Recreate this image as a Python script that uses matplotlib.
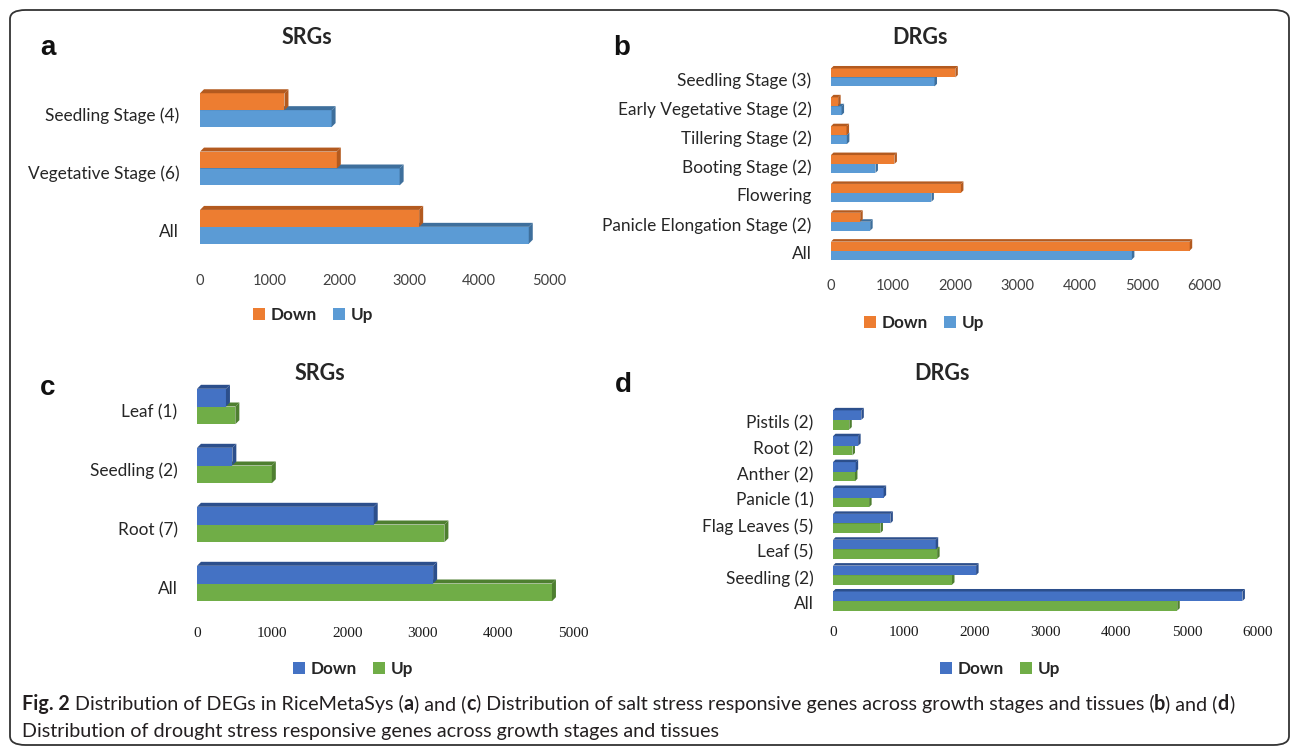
import matplotlib
matplotlib.use("Agg")
import matplotlib.pyplot as plt
from matplotlib.patches import Polygon, Patch, FancyBboxPatch

W, H = 1293, 750

# ---- data ----
srg_stage_cats = ["Seedling Stage (4)", "Vegetative Stage (6)", "All"]
srg_stage_down = [1210, 1960, 3140]
srg_stage_up = [1885, 2860, 4710]

drg_stage_cats = ["Seedling Stage (3)", "Early Vegetative Stage (2)",
                  "Tillering Stage (2)", "Booting Stage (2)", "Flowering",
                  "Panicle Elongation Stage (2)", "All"]
drg_stage_down = [2000, 115, 250, 1020, 2090, 470, 5770]
drg_stage_up = [1665, 170, 255, 715, 1615, 630, 4840]

srg_tissue_cats = ["Leaf (1)", "Seedling (2)", "Root (7)", "All"]
srg_tissue_down = [385, 470, 2350, 3140]
srg_tissue_up = [510, 995, 3290, 4720]

drg_tissue_cats = ["Pistils (2)", "Root (2)", "Anther (2)", "Panicle (1)",
                   "Flag Leaves (5)", "Leaf (5)", "Seedling (2)", "All"]
drg_tissue_down = [400, 355, 320, 715, 810, 1450, 2020, 5780]
drg_tissue_up = [230, 275, 310, 510, 670, 1470, 1680, 4860]

series_labels = ["Down", "Up"]
xmax_srg, xmax_drg = 5000, 6000

ORANGE, ORANGE_D = "#ED7D31", "#B35A1F"
BLUE, BLUE_D = "#5B9BD5", "#3E6F9C"
BLUE2, BLUE2_D = "#4472C4", "#2C4F8C"
GREEN, GREEN_D = "#70AD47", "#4E7F30"
TXT = "#262626"

fig = plt.figure(figsize=(W / 100, H / 100), dpi=100)


def px_axes(l, t, r, b):
    return fig.add_axes([l / W, 1 - b / H, (r - l) / W, (b - t) / H])


def bar3d(ax, y0, y1, v, face, dark, dx, dy):
    ax.add_patch(Polygon([(0, y0), (v, y0), (v, y1), (0, y1)], closed=True,
                         facecolor=face, edgecolor="none", zorder=2))
    ax.add_patch(Polygon([(0, y1), (v, y1), (v + dx, y1 + dy), (dx, y1 + dy)],
                         closed=True, facecolor=dark, edgecolor="none", zorder=2))
    ax.add_patch(Polygon([(v, y0), (v, y1), (v + dx, y1 + dy), (v + dx, y0 + dy)],
                         closed=True, facecolor=dark, edgecolor="none", zorder=2))


def panel(box, cats, down, up, xmax, cols, bh, depth, tickfont, tsize, tcol,
          xpad, ypad):
    l, t, r, b = box
    ax = px_axes(l, t, r, b)
    n = len(cats)
    ax.set_xlim(0, xmax)
    ax.set_ylim(-0.5, n - 0.5)
    dx = depth * xmax / (r - l)
    dy = depth * n / (b - t)
    pos = [n - 1 - i for i in range(n)]
    # up bars first (lower half), down bars on top of them
    for p, v in zip(pos, up):
        bar3d(ax, p - bh, p, v, cols[1], cols[3], dx, dy)
    for p, v in zip(pos, down):
        bar3d(ax, p, p + bh, v, cols[0], cols[2], dx, dy)
    ax.set_yticks([p - 0.07 for p in pos])
    ax.set_yticklabels(cats, family="Lato", fontsize=12.4, color=TXT)
    ax.set_xticks(range(0, xmax + 1, 1000))
    ax.set_xticklabels([str(v) for v in range(0, xmax + 1, 1000)],
                       family=tickfont, fontsize=tsize, color=tcol)
    ax.tick_params(length=0)
    ax.tick_params(axis="x", pad=xpad)
    ax.tick_params(axis="y", pad=ypad)
    for s in ax.spines.values():
        s.set_visible(False)
    ax.patch.set_alpha(0)
    return ax


def legend(cols, cx, cy):
    h = [Patch(facecolor=cols[0]), Patch(facecolor=cols[1])]
    fig.legend(h, series_labels, loc="center", ncol=2, frameon=False,
               bbox_to_anchor=(cx / W, 1 - cy / H),
               prop={"family": "Lato", "weight": "bold", "size": 12.3},
               handlelength=0.7, handleheight=0.7, handletextpad=0.35,
               columnspacing=0.9, labelcolor=TXT)


cols_ab = (ORANGE, BLUE, ORANGE_D, BLUE_D)
cols_cd = (BLUE2, GREEN, BLUE2_D, GREEN_D)

panel((200, 81, 549, 256), srg_stage_cats, srg_stage_down, srg_stage_up,
      xmax_srg, cols_ab, 0.29, 4, "Lato", 10.5, "#404040", 13, 15)
panel((831, 63, 1204, 265), drg_stage_cats, drg_stage_down, drg_stage_up,
      xmax_drg, cols_ab, 0.31, 2.5, "Lato", 10.5, "#404040", 10, 14)
panel((197, 377, 573, 613), srg_tissue_cats, srg_tissue_down, srg_tissue_up,
      xmax_srg, cols_cd, 0.30, 4, "Liberation Serif", 11, "#1a1a1a", 10, 14)
panel((833, 407, 1258, 614), drg_tissue_cats, drg_tissue_down, drg_tissue_up,
      xmax_drg, cols_cd, 0.37, 2.5, "Liberation Serif", 11, "#1a1a1a", 9, 14)

legend(cols_ab, 313, 315)
legend(cols_ab, 924, 323)
legend(cols_cd, 353, 669)
legend(cols_cd, 1000, 669)

# titles and panel letters
for s, x, y in [("SRGs", 307, 37), ("DRGs", 920, 37),
                ("SRGs", 320, 373), ("DRGs", 942, 373)]:
    fig.text(x / W, 1 - y / H, s, ha="center", va="center", family="Lato",
             weight="bold", fontsize=15.5, color=TXT)
for s, x, y in [("a", 48, 48), ("b", 622, 48), ("c", 48, 388), ("d", 623, 385)]:
    fig.text(x / W, 1 - y / H, s, ha="center", va="center",
             family="Liberation Sans", weight="bold", fontsize=20, color="#111111")

# outer rounded frame
fig.patches.append(FancyBboxPatch((10 / W, 5 / H), 1279 / W, 735 / H,
                                  boxstyle="round,pad=0,rounding_size=0.012",
                                  transform=fig.transFigure, fill=False,
                                  edgecolor="#333333", linewidth=1.3))

# caption, laid out run by run
runs1 = [("Fig. 2", "bold"), (" Distribution of DEGs in RiceMetaSys (", "normal"),
         ("a", "bold"), (") and (", "normal"), ("c", "bold"),
         (") Distribution of salt stress responsive genes across growth stages and tissues (", "normal"),
         ("b", "bold"), (") and (", "normal"), ("d", "bold"), (")", "normal")]
line2 = "Distribution of drought stress responsive genes across growth stages and tissues"

renderer = fig.canvas.get_renderer()
x = 22
for s, wt in runs1:
    t = fig.text(x / W, 1 - 704 / H, s, ha="left", va="center", family="Lato",
                 weight=wt, fontsize=14.2, color="#231F20")
    x += t.get_window_extent(renderer).width
fig.text(22 / W, 1 - 731 / H, line2, ha="left", va="center", family="Lato",
         fontsize=14.2, color="#231F20")

fig.savefig("out.png", dpi=100)
